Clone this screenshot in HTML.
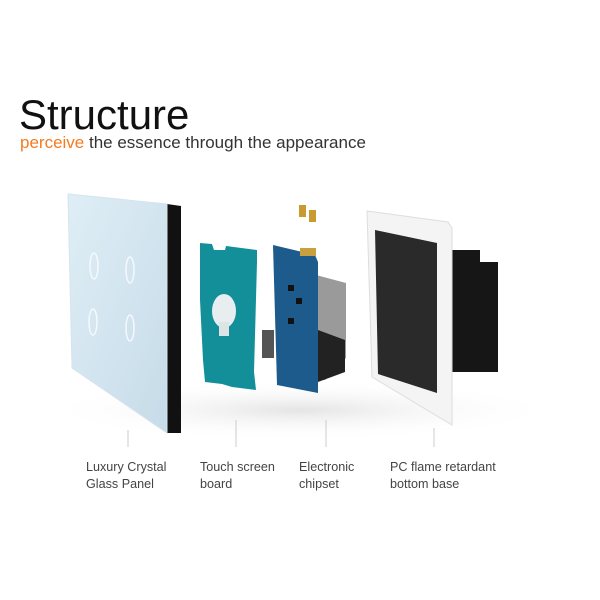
<!DOCTYPE html>
<html><head><style>
body{margin:0;width:600px;height:600px;background:#fff;overflow:hidden;position:relative;font-family:"Liberation Sans",Arial,sans-serif}
.t{position:absolute;left:19px;top:91px;font-size:42px;line-height:48px;color:#111}
.s{position:absolute;left:20px;top:133px;font-size:17px;color:#333}
.s b{font-weight:normal;color:#f47b20}
.l{position:absolute;top:459px;font-size:12.6px;line-height:17px;color:#444}
</style></head><body>
<div class="t">Structure</div>
<div class="s"><b>perceive</b> the essence through the appearance</div>
<svg width="600" height="600" style="position:absolute;left:0;top:0">
<defs>
<linearGradient id="g" x1="0" y1="0" x2="1" y2="1"><stop offset="0" stop-color="#dfeef6"/><stop offset="1" stop-color="#c6dbe8"/></linearGradient>
<radialGradient id="sh"><stop offset="0" stop-color="#e4e4e4"/><stop offset="1" stop-color="#fff" stop-opacity="0"/></radialGradient>
</defs>
<ellipse cx="300" cy="410" rx="260" ry="30" fill="url(#sh)"/>
<polygon points="167,204 181,206 181,433 167,433" fill="#111"/>
<polygon points="68,194 167,204 167,433 72,368" fill="url(#g)" stroke="#d5e4ec"/>
<g fill="none" stroke="#f4f9fc" stroke-width="1.5">
<ellipse cx="94" cy="266" rx="4" ry="13"/><ellipse cx="130" cy="270" rx="4" ry="13"/>
<ellipse cx="93" cy="322" rx="4" ry="13"/><ellipse cx="130" cy="328" rx="4" ry="13"/></g>
<polygon points="200,243 212,244 214,250 225,250 226,246 257,250 257,262 254,372 256,390 232,387 222,384 205,382 203,360 200,300" fill="#138f9a"/>
<ellipse cx="224" cy="311" rx="12" ry="17" fill="#e8eef0"/><rect x="219" y="322" width="10" height="14" fill="#dde4e6"/>
<polygon points="316,275 346,283 346,358 325,380 316,380" fill="#9a9a9a"/>
<polygon points="318,330 345,340 345,372 318,382" fill="#222"/>
<polygon points="273,245 315,255 318,262 318,393 277,385" fill="#1d5b8c"/>
<rect x="262" y="330" width="12" height="28" fill="#555"/>
<rect x="299" y="205" width="7" height="12" fill="#c89a30"/><rect x="309" y="210" width="7" height="12" fill="#c89a30"/>
<rect x="300" y="248" width="16" height="8" fill="#c8a040"/>
<rect x="288" y="285" width="6" height="6" fill="#111"/><rect x="296" y="298" width="6" height="6" fill="#111"/><rect x="288" y="318" width="6" height="6" fill="#111"/>
<polygon points="452,250 480,250 480,262 498,262 498,372 452,372" fill="#161616"/>
<polygon points="367,211 448,222 452,228 452,425 372,377" fill="#f4f4f4" stroke="#ddd"/>
<polygon points="375,230 437,243 437,393 378,374" fill="#2a2a2a"/>
<g stroke="#ccc"><line x1="128" y1="430" x2="128" y2="447"/><line x1="236" y1="420" x2="236" y2="447"/><line x1="326" y1="420" x2="326" y2="447"/><line x1="434" y1="428" x2="434" y2="447"/></g>
</svg>
<div class="l" style="left:86px">Luxury Crystal<br>Glass Panel</div>
<div class="l" style="left:200px">Touch screen<br>board</div>
<div class="l" style="left:299px">Electronic<br>chipset</div>
<div class="l" style="left:390px">PC flame retardant<br>bottom base</div>
</body></html>
